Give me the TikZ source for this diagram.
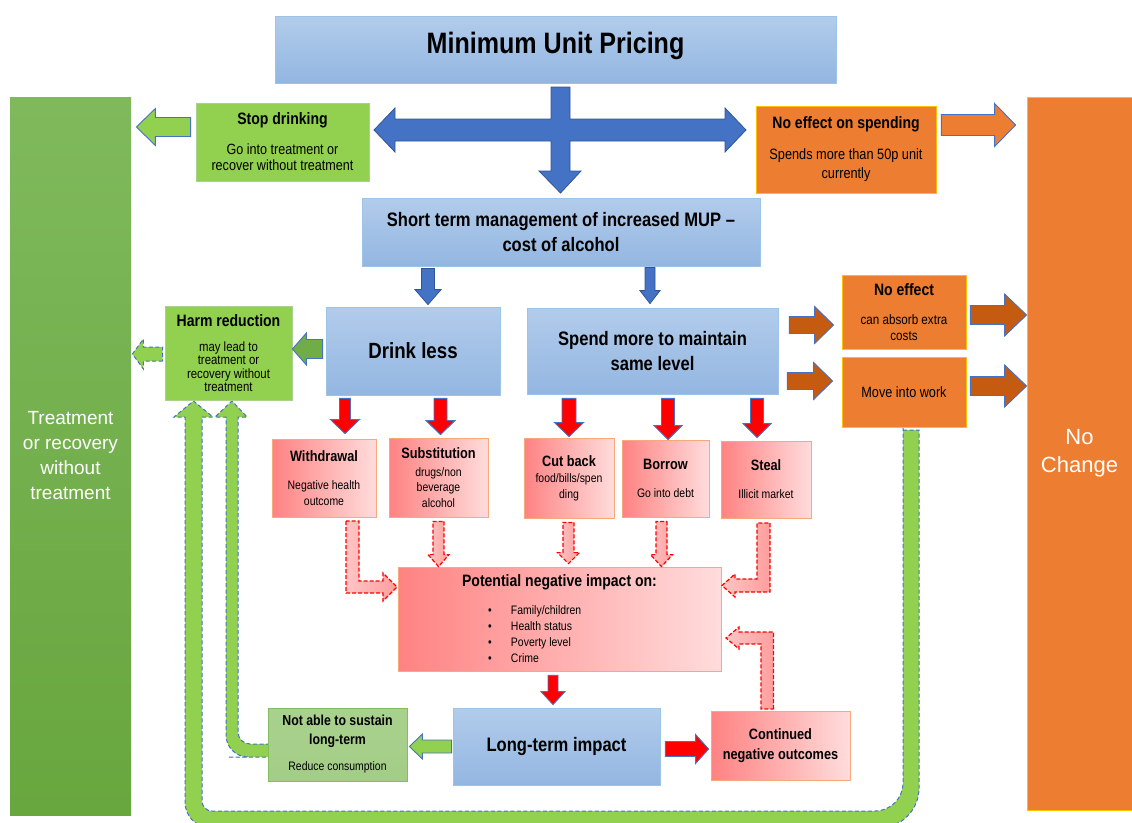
\documentclass[tikz,border=0pt]{standalone}
\usepackage{fontspec}
\setmainfont{Liberation Sans}
\newfontfamily\narrow{Liberation Sans}[FakeStretch=0.85]
\usetikzlibrary{calc}

\definecolor{bluetop}{HTML}{B2CCEB}
\definecolor{bluebot}{HTML}{93B6E1}
\definecolor{blueedge}{HTML}{9DC3E6}
\definecolor{arrblue}{HTML}{4472C4}
\definecolor{arrblueedge}{HTML}{2F5597}
\definecolor{lgreen}{HTML}{92D050}
\definecolor{dgreen}{HTML}{70AD47}
\definecolor{bartop}{HTML}{7FB95C}
\definecolor{barbot}{HTML}{68A63E}
\definecolor{orng}{HTML}{ED7D31}
\definecolor{orngedge}{HTML}{FFC000}
\definecolor{brwn}{HTML}{C55A11}
\definecolor{redL}{HTML}{FF8282}
\definecolor{redR}{HTML}{FFDCDC}
\definecolor{rededge}{HTML}{F8A97C}
\definecolor{pinkA}{HTML}{FFC4C4}
\definecolor{pinkB}{HTML}{FF9E9E}
\definecolor{sage}{HTML}{A9D18E}
\definecolor{sageedge}{HTML}{82BE5E}

\newcommand\fsz[2]{\fontsize{#1}{#2}\selectfont}
\newcommand\bul[1]{\makebox[143pt][l]{\makebox[23pt][l]{\textbullet}#1}}
% block arrow from #2 to #3: half shaft, half head, head length
\newcommand\blockarrow[6][]{%
  \coordinate (ba-s) at (#2);
  \coordinate (ba-e) at (#3);
  \coordinate (ba-h) at ($(ba-e)!#6pt!(ba-s)$);
  \path[#1] ($(ba-s)!#4pt!90:(ba-e)$) -- ($(ba-h)!#4pt!-90:(ba-s)$) -- ($(ba-h)!#5pt!-90:(ba-s)$) -- (ba-e) -- ($(ba-h)!#5pt!90:(ba-s)$) -- ($(ba-h)!#4pt!90:(ba-s)$) -- ($(ba-s)!#4pt!-90:(ba-e)$) -- cycle;
}

\tikzset{
  box/.style={inner sep=0pt, align=center, text=black, line width=0.8pt},
  bluebox/.style={box, top color=bluetop, bottom color=bluebot, draw=blueedge},
  greenbox/.style={box, fill=lgreen, draw=sage},
  sagebox/.style={box, top color=sage, bottom color=sage!90!dgreen, draw=sageedge},
  orangebox/.style={box, fill=orng, draw=orngedge},
  redbox/.style={box, left color=redL, right color=redR, draw=rededge},
  greenbar/.style={box, top color=bartop, bottom color=barbot, text=white},
  orangebar/.style={box, fill=orng, draw=orngedge, text=white},
  bluearr/.style={fill=arrblue, draw=arrblueedge, line width=0.8pt},
  greenarr/.style={fill=lgreen, draw=arrblue, line width=0.9pt},
  dkgreenarr/.style={fill=dgreen, draw=arrblue, line width=0.9pt},
  orangearr/.style={fill=orng, draw=arrblue, line width=0.9pt},
  brownarr/.style={fill=brwn, draw=arrblue, line width=0.9pt},
  redarr/.style={fill=red, draw=arrblue, line width=0.9pt},
  pinkdash/.style={left color=pinkA, right color=pinkB, draw=red, line width=1.2pt, dash pattern=on 4pt off 2pt},
  greendash/.style={fill=lgreen, draw=arrblue, line width=1pt, dash pattern=on 4pt off 2.5pt},
}

\begin{document}
\begin{tikzpicture}[x=1pt, y=-1pt]
\useasboundingbox (0,0) rectangle (1132,822);

% feedback loops
\path[greendash] (903,430) -- (919,430) -- (919,450) [rounded corners=40pt] -- (919,828) -- (500,828) [rounded corners=26pt] -- (185,828) -- (185,450) [sharp corners] -- (185,417) -- (174,417) -- (193.5,401) -- (213,417) -- (202,417) -- (202,450) [rounded corners=10pt] -- (202,811) -- (500,811) [rounded corners=28pt] -- (903,811) -- (903,450) [sharp corners] -- cycle;
\path[greendash] (270,744) -- (250,744) [rounded corners=12pt] -- (238,744) -- (238,430) [sharp corners] -- (238,417) -- (247,417) -- (232,401) -- (215,417) -- (226,417) -- (226,430) [rounded corners=22pt] -- (226,757) -- (250,757) [sharp corners] -- (270,757) -- cycle;

\node[bluebox, minimum width=561, minimum height=67, text height=21pt, text depth=14pt, font=\narrow\bfseries\fsz{29.5}{34}] (mup) at (555.5,49.5) {Minimum Unit Pricing};
\node[greenbar, minimum width=121, minimum height=718, font=\fsz{19}{25}] (trt) at (70.5,456) {Treatment\\or recovery\\without\\treatment};
\node[orangebar, minimum width=105, minimum height=713, font=\fsz{22}{28}] (nochg) at (1079.5,453.5) {No\\Change};

\node[greenbox, minimum width=173, minimum height=78, font=\narrow\fsz{14.8}{16.5}] (stop) at (282.5,142) {{\bfseries\fsz{16.5}{20}Stop drinking}\\[13pt]Go into treatment or\\recover without treatment};
\node[orangebox, minimum width=180, minimum height=87, font=\narrow\fsz{15}{19}] (nospend) at (846,149.5) {{\bfseries\fsz{16.5}{20}No effect on spending}\\[12pt]Spends more than 50p unit\\currently};
\node[bluebox, minimum width=398, minimum height=68, font=\narrow\bfseries\fsz{19.5}{25}] (shortterm) at (561,232) {Short term management of increased MUP –\\cost of alcohol};

\node[greenbox, minimum width=127, minimum height=94, font=\narrow\fsz{13.4}{13.4}] (harm) at (228.5,353) {{\bfseries\fsz{16.5}{20}Harm reduction}\\[11.5pt]may lead to\\treatment or\\recovery without\\treatment};
\node[bluebox, minimum width=174, minimum height=88, font=\narrow\bfseries\fsz{22}{26}] (drinkless) at (413,351) {Drink less};
\node[bluebox, minimum width=251, minimum height=86, font=\narrow\bfseries\fsz{19.5}{25}] (spendmore) at (652.5,351) {Spend more to maintain\\same level};
\node[orangebox, minimum width=124, minimum height=74, font=\narrow\fsz{13.7}{16}] (noeffect) at (904,312) {{\bfseries\fsz{16.5}{20}No effect}\\[13pt]can absorb extra\\costs};
\node[orangebox, minimum width=124, minimum height=70, font=\narrow\fsz{14.9}{18}] (work) at (904,392) {Move into work};

\node[redbox, minimum width=104, minimum height=78, font=\narrow\fsz{12.3}{16}] (withdraw) at (324,478) {{\bfseries\fsz{15}{18}Withdrawal}\\[12pt]Negative health\\outcome};
\node[redbox, minimum width=99, minimum height=79, font=\narrow\fsz{12.3}{15.5}] (subst) at (438.5,477.5) {{\bfseries\fsz{15}{18}Substitution}\\[2.5pt]drugs/non\\beverage\\alcohol};
\node[redbox, minimum width=90, minimum height=80, font=\narrow\fsz{12.3}{16}] (cutback) at (569,478) {{\bfseries\fsz{15}{18}Cut back}\\food/bills/spen\\ding};
\node[redbox, minimum width=87, minimum height=77, font=\narrow\fsz{12.3}{16}] (borrow) at (665.5,478.5) {{\bfseries\fsz{15}{18}Borrow}\\[12pt]Go into debt};
\node[redbox, minimum width=90, minimum height=77, font=\narrow\fsz{12.3}{16}] (steal) at (766,479.5) {{\bfseries\fsz{15}{18}Steal}\\[12pt]Illicit market};

\node[redbox, minimum width=323, minimum height=104, font=\narrow\fsz{12.3}{16}] (potential) at (559.5,619) {{\bfseries\fsz{16.5}{20}Potential negative impact on:}\\[12pt]\bul{Family/children}\\\bul{Health status}\\\bul{Poverty level}\\\bul{Crime}};
\node[sagebox, minimum width=139, minimum height=73, font=\narrow\fsz{12.3}{19}] (notable) at (337.5,744.5) {{\bfseries\fsz{14.5}{19}Not able to sustain}\\{\bfseries\fsz{14.5}{19}long-term}\\[7pt]Reduce consumption};
\node[bluebox, minimum width=207, minimum height=77, font=\narrow\bfseries\fsz{19.5}{24}] (longterm) at (556.5,746.5) {Long-term impact};
\node[redbox, minimum width=139, minimum height=69, font=\narrow\bfseries\fsz{15}{20}] (continued) at (780.5,745.5) {Continued\\negative outcomes};

% big blue cross
\path[bluearr] (551,87) -- (570,87) -- (570,119) -- (725,119) -- (725,108) -- (746,130) -- (725,152) -- (725,141) -- (570,141) -- (570,171) -- (581,171) -- (560.5,193) -- (539,171) -- (551,171) -- (551,141) -- (395,141) -- (395,152) -- (374,130) -- (395,108) -- (395,119) -- (551,119) -- cycle;

\blockarrow[greenarr]{$(stop.west)+(-5,-15)$}{$(trt.east |- stop.west)+(5,-15)$}{9.5}{18.5}{19}
\blockarrow[orangearr]{$(nospend.east)+(5,-24.5)$}{$(nochg.west |- nospend.east)+(-11,-24.5)$}{10.5}{21.5}{21}
\blockarrow[bluearr]{$(drinkless.north |- shortterm.south)+(15,2)$}{$(drinkless.north)+(15,-2)$}{6.5}{13}{15}
\blockarrow[bluearr]{$(spendmore.north |- shortterm.south)+(-2.5,1)$}{$(spendmore.north)+(-2.5,-4)$}{5}{10}{13}
\blockarrow[dkgreenarr]{$(drinkless.west)+(-3,-2)$}{$(harm.east)+(0,-4)$}{9.5}{16}{14}
\blockarrow[greendash]{$(harm.west)+(-2,1)$}{$(trt.east |- harm.west)+(1,1)$}{7}{15}{11}

% drink less / spend more outcomes
\blockarrow[redarr]{$(withdraw.north |- drinkless.south)+(21,3)$}{$(withdraw.north)+(21,-5)$}{5.5}{14.5}{14}
\blockarrow[redarr]{$(subst.north |- drinkless.south)+(2,3)$}{$(subst.north)+(2,-3)$}{6.5}{14.5}{14}
\blockarrow[redarr]{$(cutback.north |- spendmore.south)+(0,4)$}{$(cutback.north)+(0,-1)$}{7}{14.5}{14}
\blockarrow[redarr]{$(borrow.north |- spendmore.south)+(2.5,4)$}{$(borrow.north)+(2.5,0)$}{6.5}{14}{14}
\blockarrow[redarr]{$(steal.north |- spendmore.south)+(-9,4)$}{$(steal.north)+(-9,-3)$}{6.5}{14}{14}
\blockarrow[brownarr]{$(spendmore.east |- noeffect.west)+(11,13)$}{$(noeffect.west)+(-8,13)$}{8.5}{18.5}{19}
\blockarrow[brownarr]{$(spendmore.east |- work.west)+(9,-11)$}{$(work.west)+(-9,-11)$}{8.5}{18.5}{19}
\blockarrow[brownarr]{$(noeffect.east)+(4,3)$}{$(nochg.west |- noeffect.east)+(0,3)$}{9.5}{21}{22}
\blockarrow[brownarr]{$(work.east)+(4,-6)$}{$(nochg.west |- work.east)+(0,-6)$}{9.5}{21}{22}

% into potential negative impact
\path[pinkdash] (346,521) -- (346,593) -- (383,593) -- (383,601) -- (397,587) -- (383,573) -- (383,581) -- (359,581) -- (359,521) -- cycle;
\path[pinkdash] (770,523) -- (770,592) -- (735,592) -- (735,597) -- (722,585.5) -- (735,574) -- (735,579) -- (757,579) -- (757,523) -- cycle;
\path[pinkdash] (773.5,709) -- (773.5,632) -- (739,632) -- (739,627) -- (726,638) -- (739,649) -- (739,644) -- (761,644) -- (761,709) -- cycle;
\blockarrow[pinkdash]{$(subst.south)+(0,4)$}{$(subst.south |- potential.north)$}{5.5}{10.5}{12}
\blockarrow[pinkdash]{$(cutback.south)+(-0.5,4)$}{$(cutback.south |- potential.north)+(-0.5,-3)$}{5.5}{11}{11}
\blockarrow[pinkdash]{$(borrow.south)+(-4,4)$}{$(borrow.south |- potential.north)+(-4,0)$}{5.5}{11}{12}

% long term
\blockarrow[redarr]{$(potential.south)+(-6.5,4)$}{$(potential.south |- longterm.north)+(-6.5,-3)$}{5}{12}{13}
\blockarrow[greenarr]{$(longterm.west)+(-1,0)$}{$(notable.east |- longterm.west)+(2,0)$}{6.5}{12.5}{13}
\blockarrow[redarr]{$(longterm.east)+(5,2.5)$}{$(continued.west |- longterm.east)+(-2,2.5)$}{7.5}{14.5}{13}
\end{tikzpicture}
\end{document}
